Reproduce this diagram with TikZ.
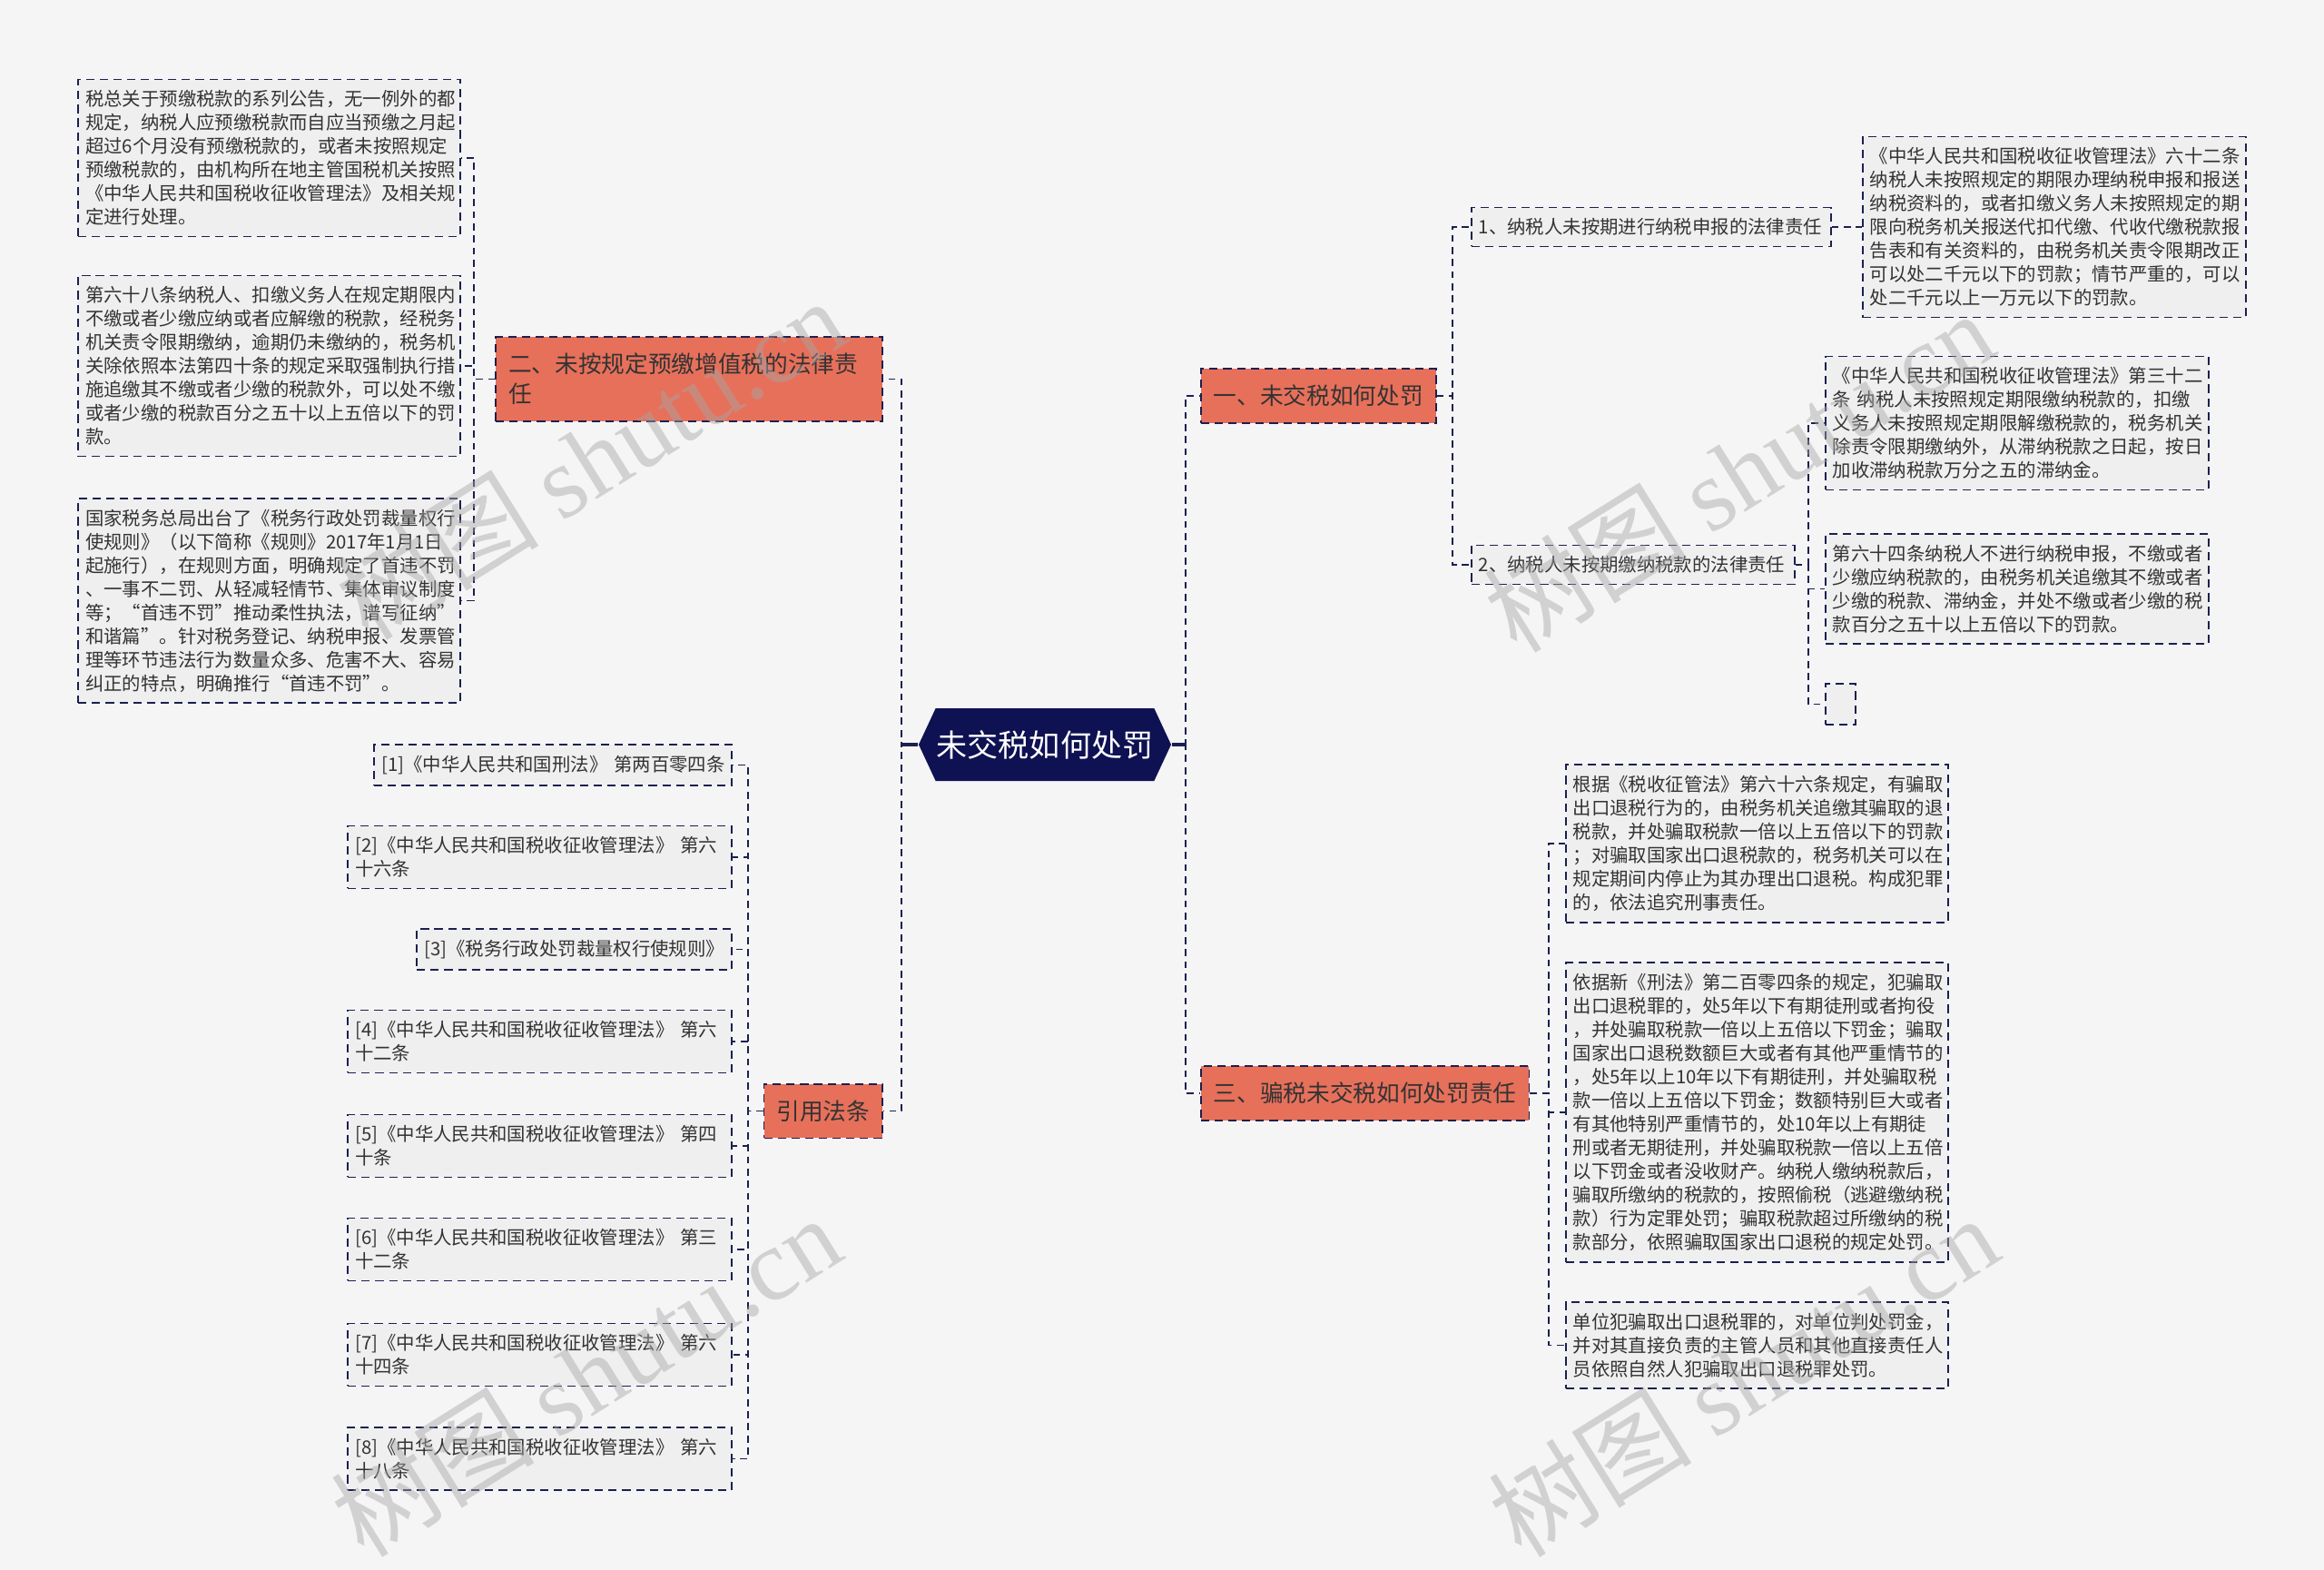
\documentclass[tikz,border=0pt]{standalone}
\usepackage{fontspec}
\setmainfont{Noto Sans CJK SC}
\newfontfamily\wmfont{Liberation Serif}
\usetikzlibrary{shapes.symbols}
\definecolor{linec}{RGB}{27,32,80}
\definecolor{navy}{RGB}{14,17,82}
\definecolor{brorange}{RGB}{231,112,91}
\definecolor{boxgray}{RGB}{239,239,239}
\definecolor{bgc}{RGB}{245,245,245}
\definecolor{textc}{RGB}{51,51,51}

\begin{document}
\begin{tikzpicture}[
  leaf/.style={draw=linec, line width=0.45pt, dash pattern=on 2.6pt off 1.7pt, fill=boxgray,
    text=textc, font=\fontsize{5.8}{7.4}\selectfont, align=left, inner xsep=0.08cm, inner ysep=0.12cm},
  branch/.style={draw=linec, line width=0.5pt, dash pattern=on 2.6pt off 1.7pt, fill=brorange,
    text=textc, font=\fontsize{7.3}{9.3}\selectfont, align=left, inner xsep=0.14cm, inner ysep=0.18cm},
  link/.style={draw=linec, line width=0.45pt, dash pattern=on 2.2pt off 1.6pt},
  wm/.style={text=gray!70, text opacity=0.45, font=\fontsize{32}{36}\selectfont, rotate=32}]
  \fill[bgc] (0,0) rectangle (25.6,-17.29);
  \useasboundingbox (0,0) rectangle (25.6,-17.29);
  % trunks
  \coordinate (tL) at (9.93,0); \coordinate (tR) at (13.06,0);
  \coordinate (tEr) at (5.22,0); \coordinate (tYin) at (8.24,0);
  \coordinate (tOne) at (16.00,0); \coordinate (tP2) at (19.92,0);
  \coordinate (tThree) at (17.06,0);
  % root
  \node[signal, signal to=west and east, signal pointer angle=130, fill=navy, text=white,
    minimum width=2.78cm, minimum height=0.8cm, inner sep=0pt,
    font=\fontsize{9.7}{11}\selectfont] (root) at (11.51,-8.20) {未交税如何处罚};
  % left: branch two
  \node[branch, anchor=east, text width=3.98cm] (er) at (9.73,-4.175)
    {二、未按规定预缴增值税的法律责\\任};
  \node[leaf, anchor=east, text width=4.05cm] (l1) at (5.08,-1.74)
    {税总关于预缴税款的系列公告，无一例外的都\\
     规定，纳税人应预缴税款而自应当预缴之月起\\
     超过6个月没有预缴税款的，或者未按照规定\\
     预缴税款的，由机构所在地主管国税机关按照\\
     《中华人民共和国税收征收管理法》及相关规\\
     定进行处理。};
  \node[leaf, anchor=east, text width=4.05cm] (l2) at (5.08,-4.03)
    {第六十八条纳税人、扣缴义务人在规定期限内\\
     不缴或者少缴应纳或者应解缴的税款，经税务\\
     机关责令限期缴纳，逾期仍未缴纳的，税务机\\
     关除依照本法第四十条的规定采取强制执行措\\
     施追缴其不缴或者少缴的税款外，可以处不缴\\
     或者少缴的税款百分之五十以上五倍以下的罚\\
     款。};
  \node[leaf, anchor=east, text width=4.05cm] (l3) at (5.08,-6.615)
    {国家税务总局出台了《税务行政处罚裁量权行\\
     使规则》（以下简称《规则》2017年1月1日\\
     起施行），在规则方面，明确规定了首违不罚\\
     、一事不二罚、从轻减轻情节、集体审议制度\\
     等；“首违不罚”推动柔性执法，谱写征纳”\\
     和谐篇”。针对税务登记、纳税申报、发票管\\
     理等环节违法行为数量众多、危害不大、容易\\
     纠正的特点，明确推行“首违不罚”。};
  % left: cited laws
  \node[branch, anchor=east] (yin) at (9.73,-12.235) {引用法条};
  \node[leaf, anchor=east, text width=3.78cm] (c1) at (8.07,-8.425)
    {\mbox{[1]《中华人民共和国刑法》 第两百零四条}};
  \node[leaf, anchor=east, text width=4.07cm] (c2) at (8.07,-9.44)
    {[2]《中华人民共和国税收征收管理法》 第六\\十六条};
  \node[leaf, anchor=east, text width=3.31cm] (c3) at (8.07,-10.455)
    {[3]《税务行政处罚裁量权行使规则》};
  \node[leaf, anchor=east, text width=4.07cm] (c4) at (8.07,-11.47)
    {[4]《中华人民共和国税收征收管理法》 第六\\十二条};
  \node[leaf, anchor=east, text width=4.07cm] (c5) at (8.07,-12.62)
    {[5]《中华人民共和国税收征收管理法》 第四\\十条};
  \node[leaf, anchor=east, text width=4.07cm] (c6) at (8.07,-13.76)
    {[6]《中华人民共和国税收征收管理法》 第三\\十二条};
  \node[leaf, anchor=east, text width=4.07cm] (c7) at (8.07,-14.92)
    {[7]《中华人民共和国税收征收管理法》 第六\\十四条};
  \node[leaf, anchor=east, text width=4.07cm] (c8) at (8.07,-16.065)
    {[8]《中华人民共和国税收征收管理法》 第六\\十八条};
  % right: branch one
  \node[branch, anchor=west] (one) at (13.22,-4.36) {一、未交税如何处罚};
  \node[leaf, anchor=west, text width=3.80cm] (p1) at (16.20,-2.50)
    {1、纳税人未按期进行纳税申报的法律责任};
  \node[leaf, anchor=west, text width=3.40cm] (p2) at (16.20,-6.22)
    {2、纳税人未按期缴纳税款的法律责任};
  \node[leaf, anchor=west, text width=4.06cm] (r1) at (20.51,-2.50)
    {《中华人民共和国税收征收管理法》六十二条\\
     纳税人未按照规定的期限办理纳税申报和报送\\
     纳税资料的，或者扣缴义务人未按照规定的期\\
     限向税务机关报送代扣代缴、代收代缴税款报\\
     告表和有关资料的，由税务机关责令限期改正\\
     可以处二千元以下的罚款；情节严重的，可以\\
     处二千元以上一万元以下的罚款。};
  \node[leaf, anchor=west, text width=4.06cm] (r2) at (20.10,-4.66)
    {《中华人民共和国税收征收管理法》第三十二\\
     条 纳税人未按照规定期限缴纳税款的，扣缴\\
     义务人未按照规定期限解缴税款的，税务机关\\
     除责令限期缴纳外，从滞纳税款之日起，按日\\
     加收滞纳税款万分之五的滞纳金。};
  \node[leaf, anchor=west, text width=4.06cm] (r3) at (20.10,-6.485)
    {第六十四条纳税人不进行纳税申报，不缴或者\\
     少缴应纳税款的，由税务机关追缴其不缴或者\\
     少缴的税款、滞纳金，并处不缴或者少缴的税\\
     款百分之五十以上五倍以下的罚款。};
  \node[leaf, anchor=west, minimum width=0.33cm, minimum height=0.45cm, inner sep=0pt] (blank) at (20.10,-7.755) {};
  % right: branch three
  \node[branch, anchor=west] (three) at (13.22,-12.04) {三、骗税未交税如何处罚责任};
  \node[leaf, anchor=west, text width=4.05cm] (r4) at (17.24,-9.29)
    {根据《税收征管法》第六十六条规定，有骗取\\
     出口退税行为的，由税务机关追缴其骗取的退\\
     税款，并处骗取税款一倍以上五倍以下的罚款\\
     ；对骗取国家出口退税款的，税务机关可以在\\
     规定期间内停止为其办理出口退税。构成犯罪\\
     的，依法追究刑事责任。};
  \node[leaf, anchor=west, text width=4.05cm] (r5) at (17.24,-12.25)
    {依据新《刑法》第二百零四条的规定，犯骗取\\
     出口退税罪的，处5年以下有期徒刑或者拘役\\
     ，并处骗取税款一倍以上五倍以下罚金；骗取\\
     国家出口退税数额巨大或者有其他严重情节的\\
     ，处5年以上10年以下有期徒刑，并处骗取税\\
     款一倍以上五倍以下罚金；数额特别巨大或者\\
     有其他特别严重情节的，处10年以上有期徒\\
     刑或者无期徒刑，并处骗取税款一倍以上五倍\\
     以下罚金或者没收财产。纳税人缴纳税款后，\\
     骗取所缴纳的税款的，按照偷税（逃避缴纳税\\
     款）行为定罪处罚；骗取税款超过所缴纳的税\\
     款部分，依照骗取国家出口退税的规定处罚。};
  \node[leaf, anchor=west, text width=4.05cm] (r6) at (17.24,-14.815)
    {单位犯骗取出口退税罪的，对单位判处罚金，\\
     并对其直接负责的主管人员和其他直接责任人\\
     员依照自然人犯骗取出口退税罪处罚。};
  % connectors
  \draw[linec, line width=1.1pt] (root.west) -- (root.west -| tL);
  \draw[linec, line width=1.1pt] (root.east) -- (root.east -| tR);
  \foreach \c in {er,yin} \draw[link] (root.west) -- (root.west -| tL) |- (\c.east);
  \foreach \c in {one,three} \draw[link] (root.east) -- (root.east -| tR) |- (\c.west);
  \foreach \c in {l1,l2,l3} \draw[link] (er.west) -- (er.west -| tEr) |- (\c.east);
  \foreach \c in {c1,c2,c3,c4,c5,c6,c7,c8} \draw[link] (yin.west) -- (yin.west -| tYin) |- (\c.east);
  \foreach \c in {p1,p2} \draw[link] (one.east) -- (one.east -| tOne) |- (\c.west);
  \draw[link] (p1.east) -- (r1.west);
  \foreach \c in {r2,r3,blank} \draw[link] (p2.east) -- (p2.east -| tP2) |- (\c.west);
  \foreach \c in {r4,r5,r6} \draw[link] (three.east) -- (three.east -| tThree) |- (\c.west);
  % watermarks
  \node[wm] (wm1) at (6.50,-5.05) {树图 {\wmfont shutu.cn}};
  \node[wm] (wm2) at (19.15,-5.19) {树图 {\wmfont shutu.cn}};
  \node[wm] (wm3) at (6.45,-15.15) {树图 {\wmfont shutu.cn}};
  \node[wm] (wm4) at (19.20,-15.15) {树图 {\wmfont shutu.cn}};
\end{tikzpicture}
\end{document}
